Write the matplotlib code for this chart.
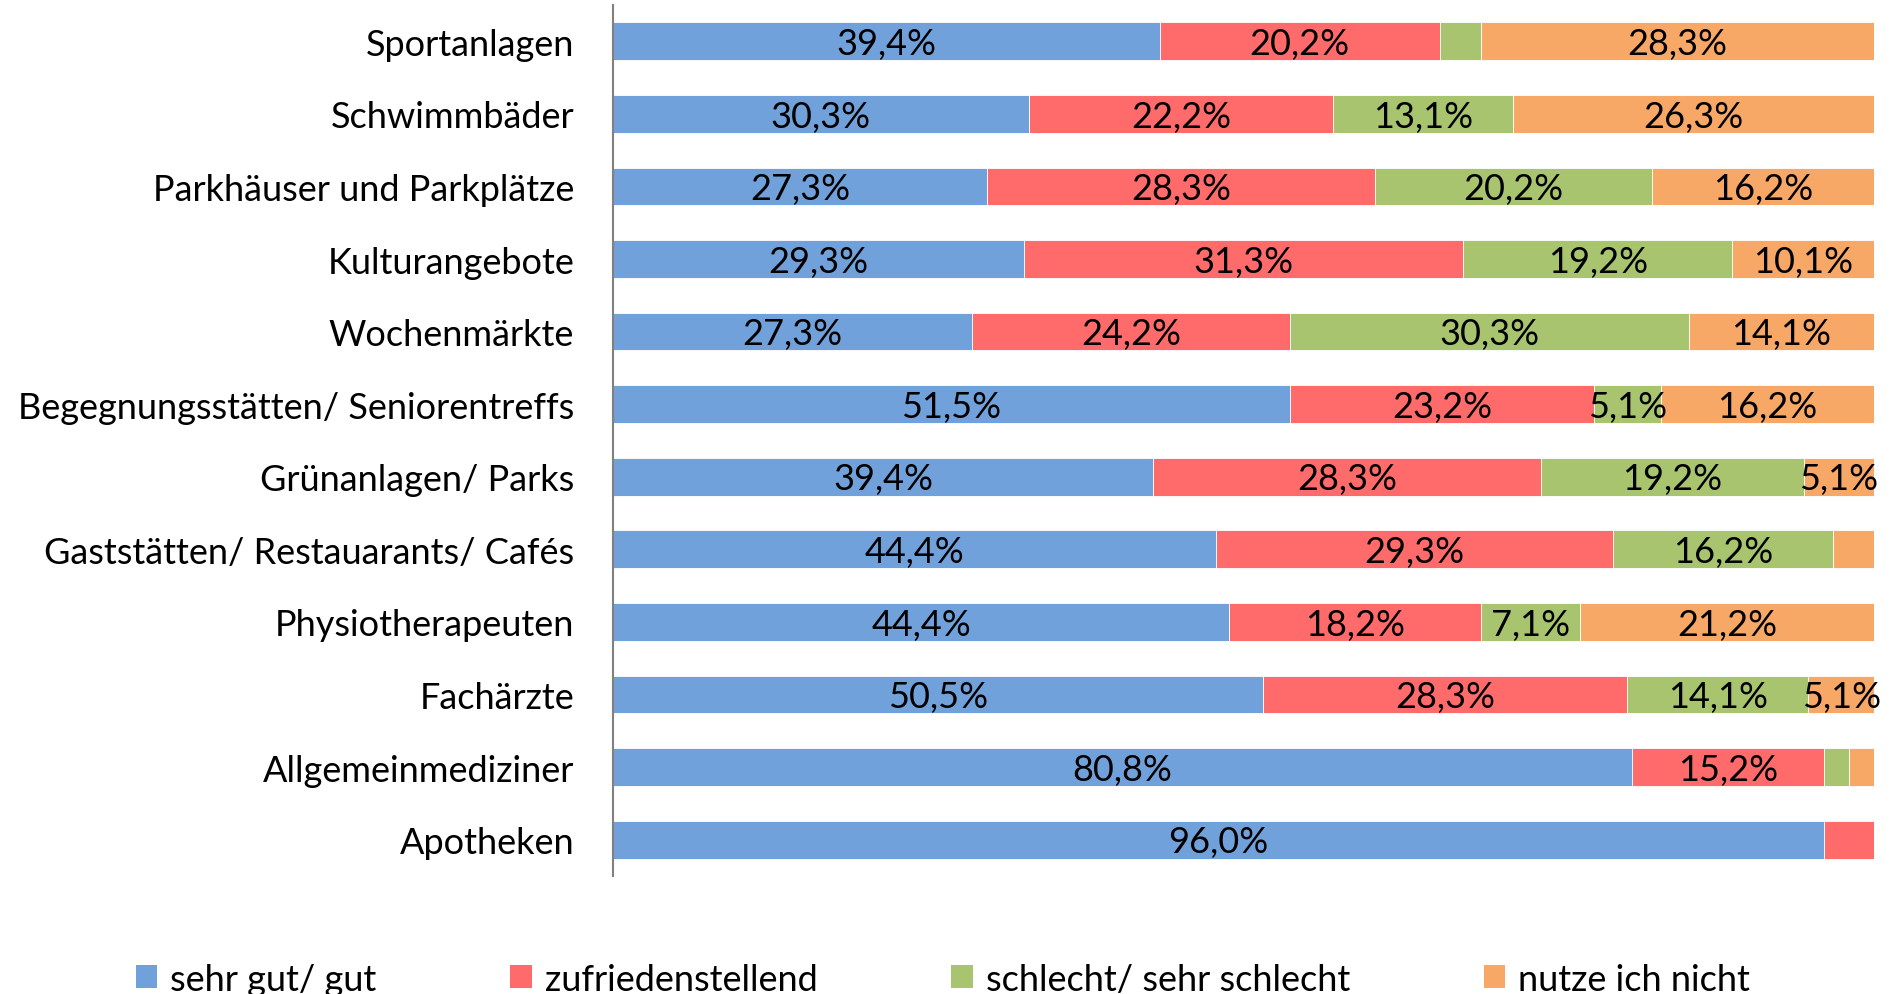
import matplotlib.pyplot as plt
from matplotlib.patches import Patch
import numpy as np

plt.rcParams['font.family'] = ['Lato', 'DejaVu Sans']

categories = ["Sportanlagen", "Schwimmbäder", "Parkhäuser und Parkplätze", "Kulturangebote",
              "Wochenmärkte", "Begegnungsstätten/ Seniorentreffs", "Grünanlagen/ Parks",
              "Gaststätten/ Restauarants/ Cafés", "Physiotherapeuten", "Fachärzte",
              "Allgemeinmediziner", "Apotheken"]
series_names = ["sehr gut/ gut", "zufriedenstellend", "schlecht/ sehr schlecht", "nutze ich nicht"]
sehr_gut = [39.4, 30.3, 27.3, 29.3, 27.3, 51.5, 39.4, 44.4, 44.4, 50.5, 80.8, 96.0]
zufrieden = [20.2, 22.2, 28.3, 31.3, 24.2, 23.2, 28.3, 29.3, 18.2, 28.3, 15.2, 4.0]
schlecht = [3.0, 13.1, 20.2, 19.2, 30.3, 5.1, 19.2, 16.2, 7.1, 14.1, 2.0, 0.0]
nutze_nicht = [28.3, 26.3, 16.2, 10.1, 14.1, 16.2, 5.1, 3.0, 21.2, 5.1, 2.0, 0.0]
colors = ['#71A1DA', '#FF6B6B', '#A9C46F', '#F7A866']

fig = plt.figure(figsize=(19.01, 9.95), dpi=100)
ax = fig.add_axes([0.3225, 0.1186, 0.9858 - 0.3225, 0.994 - 0.1186])

data = np.array([sehr_gut, zufrieden, schlecht, nutze_nicht])
totals = data.sum(axis=0)
y = np.arange(len(categories))
left = np.zeros(len(categories))
fs = 26
for vals, col, name in zip(data, colors, series_names):
    w = vals / totals * 100
    ax.barh(y, w, left=left, height=0.52, color=col, edgecolor='white', linewidth=0.6, label=name)
    for yi, l, wi, v in zip(y, left, w, vals):
        if v >= 5:
            ax.text(l + wi / 2, yi + 0.03, f"{v:.1f}".replace('.', ',') + '%', ha='center', va='center',
                    fontsize=fs, color='black')
    left += w

ax.set_xlim(0, 100)
ax.set_ylim(len(categories) - 0.5, -0.5)
ax.set_yticks(y)
ax.set_yticklabels(categories, fontsize=fs)
ax.tick_params(axis='y', length=0, pad=28)
ax.set_xticks([])
for s in ['top', 'right', 'bottom']:
    ax.spines[s].set_visible(False)
ax.spines['left'].set_color('#808080')
ax.spines['left'].set_linewidth(1.5)

handles = [Patch(facecolor=c, edgecolor='none') for c in colors]
fig.legend(handles, series_names, loc='center', bbox_to_anchor=(0.496, 0.015), ncol=4,
           frameon=False, fontsize=fs, handlelength=0.6, handleheight=0.6,
           handletextpad=0.36, columnspacing=3.7)

fig.savefig('out.png', dpi=100)
